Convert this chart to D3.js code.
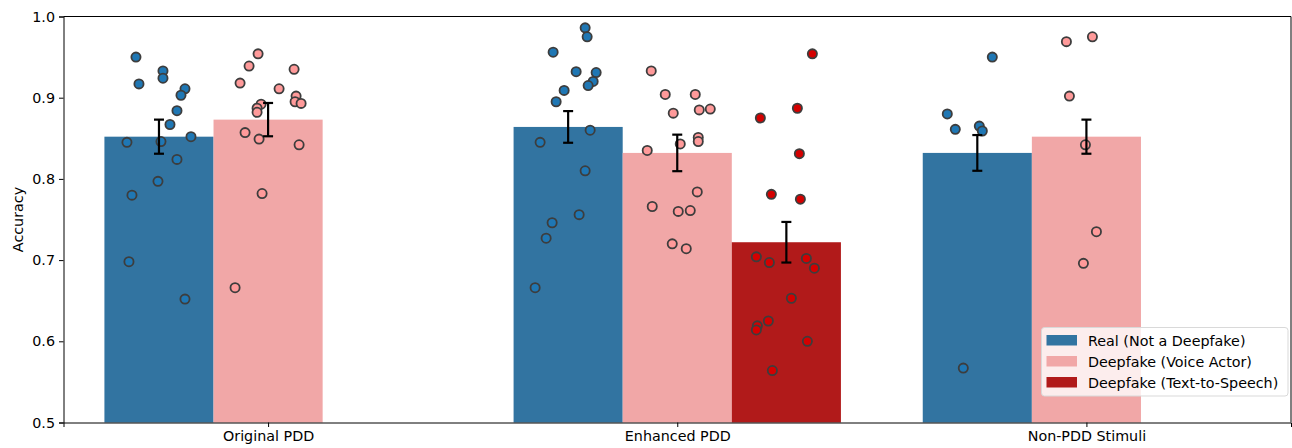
<!DOCTYPE html>
<html>
<head>
<meta charset="utf-8">
<script src="https://cdn.jsdelivr.net/npm/d3@7"></script>
<style>
  body { margin: 0; background: #fff; }
  text { font-family: "DejaVu Sans", sans-serif; }
</style>
</head>
<body>
<div id="chart"></div>
<script>
// Categories and series
const groups = ["Original PDD", "Enhanced PDD", "Non-PDD Stimuli"];
const seriesNames = ["Real (Not a Deepfake)", "Deepfake (Voice Actor)", "Deepfake (Text-to-Speech)"];
const barColors = ["#3274a1", "#f1a7a7", "#b11a1a"];
const dotColors = ["#1f77b4", "#ff9a9a", "#d40000"];

// bar means, null = no bar
const realMeans = [0.852, 0.864, 0.832];
const actorMeans = [0.873, 0.832, 0.852];
const ttsMeans = [null, 0.722, null];

// standard errors
const realErr = [0.021, 0.0195, 0.022];
const actorErr = [0.0205, 0.0225, 0.021];
const ttsErr = [null, 0.025, null];

// individual participant scores, per group
const realScores = [
  [0.950, 0.933, 0.924, 0.917, 0.911, 0.903, 0.884, 0.867, 0.852, 0.845, 0.846, 0.824, 0.797, 0.780, 0.698, 0.652],
  [0.986, 0.975, 0.956, 0.932, 0.931, 0.920, 0.915, 0.909, 0.895, 0.860, 0.845, 0.810, 0.756, 0.746, 0.727, 0.666],
  [0.950, 0.880, 0.865, 0.861, 0.859, 0.567]
];
const realJitter = [
  [-23, 4, 4, -20, 26, 22, 18, 11, 32, -32, 2, 18, -1, -27, -30, 26],
  [17, 19, -15, 8, 28, 25, 20, -4, -12, 22, -28, 17, 11, -16, -22, -33],
  [15, -30, 2, -22, 5, -14]
];
const actorScores = [
  [0.954, 0.939, 0.935, 0.918, 0.911, 0.902, 0.895, 0.893, 0.892, 0.887, 0.882, 0.857, 0.849, 0.842, 0.782, 0.666],
  [0.933, 0.904, 0.904, 0.881, 0.885, 0.886, 0.851, 0.846, 0.843, 0.835, 0.784, 0.766, 0.760, 0.761, 0.720, 0.714],
  [0.975, 0.969, 0.902, 0.842, 0.735, 0.696]
];
const actorJitter = [
  [-10, -19, 26, -28, 11, 28, 27, 33, -7, -11, -11, -23, -9, 31, -6, -33],
  [-26, -12, 18, -4, 22, 33, 21, 21, 3, -30, 20, -25, 1, 13, -5, 9],
  [6, -20, -17, -1, 10, -3]
];
const ttsScores = [
  [],
  [0.954, 0.887, 0.875, 0.831, 0.781, 0.775, 0.704, 0.697, 0.702, 0.690, 0.653, 0.625, 0.619, 0.614, 0.600, 0.564],
  []
];
const ttsJitter = [
  [],
  [26, 11, -26, 13, -15, 14, -30, -17, 20, 28, 5, -18, -29, -30, 21, -14],
  []
];

const yTicks = [0.5, 0.6, 0.7, 0.8, 0.9, 1.0];

const means = [realMeans, actorMeans, ttsMeans];
const errs = [realErr, actorErr, ttsErr];
const scores = [realScores, actorScores, ttsScores];
const jitter = [realJitter, actorJitter, ttsJitter];

// layout
const W = 1292, H = 448;
const margin = { top: 16.5, right: 1, bottom: 25.5, left: 63.5 };
const width = W - margin.left - margin.right;
const height = H - margin.top - margin.bottom;
const fontSize = "14.3px";

const svg = d3.select("#chart")
    .append("svg")
    .attr("width", W)
    .attr("height", H);

const g = svg.append("g")
    .attr("transform", `translate(${margin.left},${margin.top})`);

const x = d3.scaleLinear().domain([-0.5, 2.5]).range([0, width]);
const y = d3.scaleLinear().domain([0.5, 1.0]).range([height, 0]);

const barW = 0.8 / 3;
const offsets = [-1, 0, 1];
const pxPerUnit = x(1) - x(0);

// bars
seriesNames.forEach((name, s) => {
    groups.forEach((grp, i) => {
        const m = means[s][i];
        if (m === null) return;
        const cx = i + offsets[s] * barW;
        g.append("rect")
            .attr("x", x(cx - barW / 2))
            .attr("width", x(cx + barW / 2) - x(cx - barW / 2))
            .attr("y", y(m))
            .attr("height", y(0.5) - y(m))
            .attr("fill", barColors[s]);
    });
});

// points
seriesNames.forEach((name, s) => {
    groups.forEach((grp, i) => {
        const cx = i + offsets[s] * barW;
        scores[s][i].forEach((v, k) => {
            g.append("circle")
                .attr("cx", x(cx) + jitter[s][i][k] * pxPerUnit / 409)
                .attr("cy", y(v))
                .attr("r", 4.6)
                .attr("fill", dotColors[s])
                .attr("stroke", "#3d3d3d")
                .attr("stroke-width", 1.8);
        });
    });
});

// error bars
seriesNames.forEach((name, s) => {
    groups.forEach((grp, i) => {
        const m = means[s][i];
        if (m === null) return;
        const e = errs[s][i];
        const px = x(i + offsets[s] * barW);
        g.append("line")
            .attr("x1", px).attr("x2", px)
            .attr("y1", y(m - e)).attr("y2", y(m + e))
            .attr("stroke", "#000").attr("stroke-width", 2.2);
        [m - e, m + e].forEach(v => {
            g.append("line")
                .attr("x1", px - 5).attr("x2", px + 5)
                .attr("y1", y(v)).attr("y2", y(v))
                .attr("stroke", "#000").attr("stroke-width", 2.2);
        });
    });
});

// axes
const xAxis = g.append("g")
    .attr("transform", `translate(0,${height})`)
    .call(d3.axisBottom(x).tickValues([0, 1, 2]).tickFormat(i => groups[i]).tickSizeOuter(0).tickSize(4.5).tickPadding(4));

const yAxis = g.append("g")
    .call(d3.axisLeft(y).tickValues(yTicks).tickFormat(d3.format(".1f")).tickSizeOuter(0).tickSize(4.5).tickPadding(4));

[xAxis, yAxis].forEach(a => {
    a.selectAll("text").style("font-size", fontSize).attr("fill", "#000");
    a.selectAll("line").attr("stroke", "#000").attr("stroke-width", 1);
    a.select(".domain").attr("stroke", "#000").attr("stroke-width", 1);
});

// top and right spines
g.append("line").attr("x1", 0).attr("x2", width).attr("y1", 0).attr("y2", 0)
    .attr("stroke", "#000").attr("stroke-width", 1);
g.append("line").attr("x1", width).attr("x2", width).attr("y1", 0).attr("y2", height)
    .attr("stroke", "#000").attr("stroke-width", 1);

// y label
svg.append("text")
    .attr("transform", `translate(22.5,${margin.top + height / 2}) rotate(-90)`)
    .attr("text-anchor", "middle")
    .style("font-size", fontSize)
    .text("Accuracy");

// legend
const leg = svg.append("g").attr("transform", "translate(1041.5,327.5)");
leg.append("rect")
    .attr("width", 246.5).attr("height", 68.5)
    .attr("rx", 3)
    .attr("fill", "#fff").attr("fill-opacity", 0.8)
    .attr("stroke", "#d9d9d9");
seriesNames.forEach((name, s) => {
    leg.append("rect")
        .attr("x", 5).attr("y", 7.5 + s * 21)
        .attr("width", 30.5).attr("height", 10.5)
        .attr("fill", barColors[s]);
    leg.append("text")
        .attr("x", 46.5).attr("y", 18 + s * 21)
        .style("font-size", fontSize)
        .text(name);
});
</script>
</body>
</html>
